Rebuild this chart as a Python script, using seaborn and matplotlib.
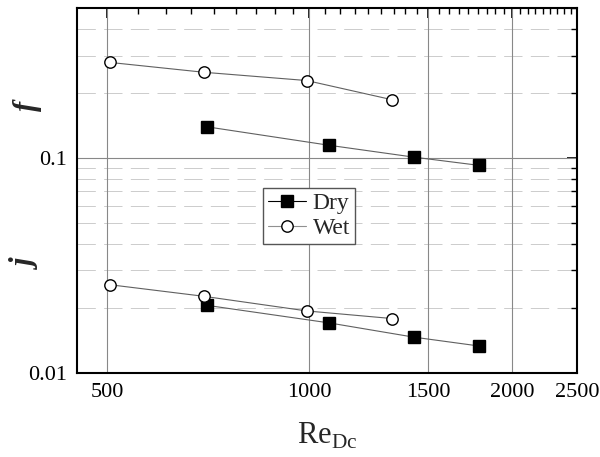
import numpy as np
import pandas as pd
import seaborn as sns
import matplotlib.pyplot as plt
from matplotlib.ticker import FixedLocator, NullFormatter, LogLocator, FixedFormatter
from matplotlib.lines import Line2D

# valores
re_dry = [703, 1069, 1428, 1788]
f_dry = [0.140, 0.1148, 0.1011, 0.0925]
j_dry = [0.02065, 0.0171, 0.01468, 0.01334]

re_wet = [505, 697, 991, 1327]
f_wet = [0.279, 0.251, 0.2297, 0.187]
j_wet = [0.02574, 0.02273, 0.01943, 0.01791]

x_ticks = [500, 1000, 1500, 2000, 2500]
y_ticks = [0.01, 0.1]
y_tick_labels = ["0.01", "0.1"]

df = pd.concat([
    pd.DataFrame({"Re": re_dry, "val": f_dry, "cond": "Dry", "qty": "f"}),
    pd.DataFrame({"Re": re_dry, "val": j_dry, "cond": "Dry", "qty": "j"}),
    pd.DataFrame({"Re": re_wet, "val": f_wet, "cond": "Wet", "qty": "f"}),
    pd.DataFrame({"Re": re_wet, "val": j_wet, "cond": "Wet", "qty": "j"}),
], ignore_index=True)

sns.set_style("white")
plt.rcParams['font.family'] = ['Liberation Serif', 'DejaVu Serif']
plt.rcParams['mathtext.fontset'] = 'custom'
plt.rcParams['mathtext.rm'] = 'Liberation Serif'

fig = plt.figure(figsize=(6, 4.57), dpi=100)
ax = fig.add_axes([0.128, 0.184, 0.834, 0.7985])

line_col = "#606060"
estilos = {"Dry": dict(marker="s", mfc="black", ms=8),
           "Wet": dict(marker="o", mfc="white", ms=8.2)}

for cond, st in estilos.items():
    sub = df[df["cond"] == cond]
    sns.lineplot(data=sub, x="Re", y="val", units="qty", estimator=None,
                 color=line_col, lw=0.8, marker=st["marker"],
                 markerfacecolor=st["mfc"], markeredgecolor="black",
                 markeredgewidth=1.0, markersize=st["ms"], ax=ax,
                 legend=False, zorder=3)

ax.set_xscale("log")
ax.set_yscale("log")
ax.set_xlim(451, 2500)
ax.set_ylim(0.01, 0.5)

# eixo x
minors = []
for a in [500, 1000, 1500, 2000]:
    minors += [a + k * 500 / 9 for k in range(1, 9)]
ax.xaxis.set_major_locator(FixedLocator(x_ticks))
ax.xaxis.set_major_formatter(FixedFormatter([str(v) for v in x_ticks]))
ax.xaxis.set_minor_locator(FixedLocator(minors))
ax.xaxis.set_minor_formatter(NullFormatter())

# eixo y
ax.yaxis.set_major_locator(FixedLocator(y_ticks))
ax.yaxis.set_major_formatter(FixedFormatter(y_tick_labels))
ax.yaxis.set_minor_locator(LogLocator(base=10, subs=np.arange(2, 10)))
ax.yaxis.set_minor_formatter(NullFormatter())

ax.tick_params(which="both", direction="in", top=True, right=True,
               labelsize=16, colors="black")
ax.tick_params(which="major", length=7, width=1.2, pad=7)
ax.tick_params(which="minor", length=4, width=1.0)

for gx in [500, 1000, 1500, 2000]:
    ax.axvline(gx, color="#888888", lw=0.8, zorder=1)
ax.axhline(0.1, color="#888888", lw=0.8, zorder=1)
ax.yaxis.grid(True, which="minor", color="#c4c4c4", lw=0.6,
              linestyle=(0, (22, 10)), zorder=0)

for s in ax.spines.values():
    s.set_color("black")
    s.set_linewidth(1.5)

ax.set_xlabel(r"Re$_{\mathrm{Dc}}$", fontsize=22, labelpad=14)
ax.set_ylabel("")
fig.text(0.045, 0.768, "f", fontsize=22, style="italic", weight="bold",
         rotation=90, ha="center", va="center")
fig.text(0.045, 0.42, "j", fontsize=22, style="italic", weight="bold",
         rotation=90, ha="center", va="center")

handles = [
    Line2D([], [], color="black", lw=0.8, marker="s", mfc="black",
           mec="black", ms=8, label="Dry"),
    Line2D([], [], color="#909090", lw=0.8, marker="o", mfc="white",
           mec="black", ms=8.2, label="Wet"),
]
leg = ax.legend(handles=handles, loc="center", bbox_to_anchor=(0.464, 0.43),
                fontsize=17, frameon=True, fancybox=False, framealpha=1,
                edgecolor="#555555", handlelength=1.6, handletextpad=0.3,
                borderpad=0.2, labelspacing=0.15, borderaxespad=0)
leg.get_frame().set_linewidth(1.0)

fig.savefig("out.png", dpi=100)
